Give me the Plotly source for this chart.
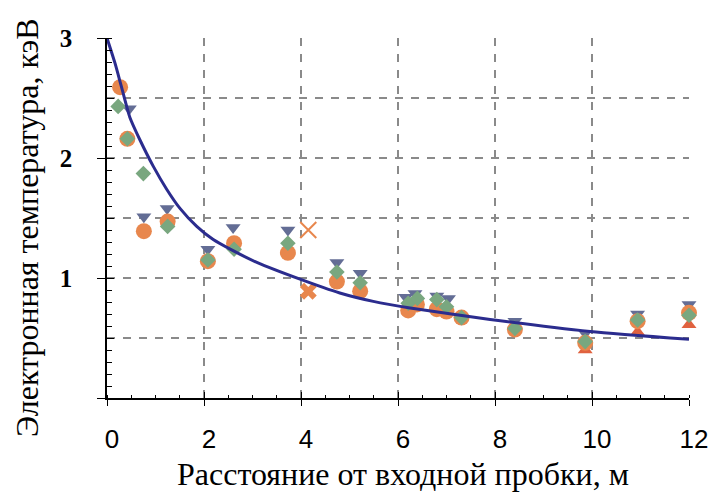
import plotly.graph_objects as go

# ---- data ----
circ_x = [0.27, 0.42, 0.76, 1.25, 2.08, 2.62, 3.73, 4.74, 5.22, 6.21, 6.39, 6.80, 7.00, 7.31, 8.41, 9.86, 10.94, 12.0]
circ_y = [2.59, 2.16, 1.39, 1.47, 1.14, 1.29, 1.21, 0.97, 0.89, 0.73, 0.78, 0.74, 0.72, 0.67, 0.57, 0.46, 0.64, 0.71]

tdn_x = [0.46, 0.76, 1.24, 2.08, 2.60, 3.73, 4.74, 5.22, 6.16, 6.35, 6.80, 7.04, 8.41, 9.86, 10.94, 12.0]
tdn_y = [2.41, 1.51, 1.58, 1.24, 1.42, 1.40, 1.13, 1.04, 0.84, 0.87, 0.85, 0.83, 0.64, 0.54, 0.70, 0.78]

dia_x = [0.23, 0.42, 0.75, 1.25, 2.08, 2.62, 3.73, 4.74, 5.22, 6.21, 6.40, 6.80, 7.00, 7.31, 8.41, 9.86, 10.94, 12.0]
dia_y = [2.43, 2.16, 1.87, 1.43, 1.15, 1.24, 1.29, 1.05, 0.96, 0.79, 0.83, 0.82, 0.76, 0.67, 0.58, 0.47, 0.65, 0.69]

tup_x = [9.86, 10.94, 12.0]
tup_y = [0.40, 0.55, 0.61]

xthin_x = [4.15]
xthin_y = [1.40]
xbold_x = [4.15]
xbold_y = [0.89]

curve_x = [0.0, 0.165, 0.30, 0.47, 0.68, 0.955, 1.23, 1.505, 1.85, 2.19, 2.54, 3.09, 3.98, 4.80, 5.49, 6.25, 7.9, 9.96, 12.0]
curve_y = [3.00, 2.79, 2.59, 2.34, 2.15, 1.93, 1.74, 1.58, 1.43, 1.32, 1.24, 1.13, 0.99, 0.875, 0.805, 0.75, 0.655, 0.555, 0.49]

x_ticks = [0, 2, 4, 6, 8, 10, 12]
y_ticks = [0, 1, 2, 3]
y_ticktext = ["", "1", "2", "3"]

ORANGE = "#E8874D"
BLUE = "#636D95"
GREEN = "#79A77F"
RED = "#E0623F"
LINE = "#2B2C8E"
GRID = "#8A8A8A"

fig = go.Figure()
fig.add_trace(go.Scatter(x=tup_x, y=tup_y, mode="markers", cliponaxis=False,
                         marker=dict(symbol="triangle-up", size=13, color=RED, line=dict(width=0))))
fig.add_trace(go.Scatter(x=tdn_x, y=tdn_y, mode="markers", cliponaxis=False,
                         marker=dict(symbol="triangle-down", size=13, color=BLUE, line=dict(width=0))))
fig.add_trace(go.Scatter(x=circ_x, y=circ_y, mode="markers", cliponaxis=False,
                         marker=dict(symbol="circle", size=16, color=ORANGE, line=dict(width=0))))
fig.add_trace(go.Scatter(x=dia_x, y=dia_y, mode="markers", cliponaxis=False,
                         marker=dict(symbol="diamond", size=12, color=GREEN, line=dict(width=0))))
fig.add_trace(go.Scatter(x=xthin_x, y=xthin_y, mode="markers", cliponaxis=False,
                         marker=dict(symbol="x-thin-open", size=16, color=ORANGE,
                                     line=dict(width=2, color=ORANGE))))
fig.add_trace(go.Scatter(x=xbold_x, y=xbold_y, mode="markers", cliponaxis=False,
                         marker=dict(symbol="x", size=15, color=ORANGE, line=dict(width=0))))
fig.add_trace(go.Scatter(x=curve_x, y=curve_y, mode="lines", cliponaxis=False,
                         line=dict(color=LINE, width=3, shape="spline", smoothing=0.6)))

# invisible trace to attach the overlay axes
fig.add_trace(go.Scatter(x=[None], y=[None], xaxis="x2", yaxis="y2", showlegend=False, hoverinfo="skip"))

fig.update_layout(
    width=710, height=497, autosize=False,
    margin=dict(l=107, r=21, t=38, b=99, autoexpand=False),
    paper_bgcolor="white", plot_bgcolor="white",
    showlegend=False,
    xaxis=dict(
        range=[0, 12], tickvals=x_ticks, ticks="outside", ticklen=6, tickwidth=1.3, tickcolor="black",
        showline=True, linecolor="black", linewidth=1.5, automargin=False,
        showgrid=True, gridcolor=GRID, gridwidth=1.5, griddash="8px,8px",
        zeroline=False,
        tickfont=dict(family="Liberation Sans Narrow, Arial Narrow, Liberation Sans, Arial", size=26, color="black"),
        ticklabelshift=5, ticklabelstandoff=11,
        minor=dict(dtick=0.5, tick0=0, ticks="inside", ticklen=3, tickwidth=1, tickcolor="black", showgrid=False),
    ),
    yaxis=dict(
        range=[0, 3], tickvals=y_ticks, ticktext=y_ticktext, ticks="outside", ticklen=8, tickwidth=1.3,
        tickcolor="black", automargin=False,
        showline=True, linecolor="black", linewidth=1.5,
        showgrid=False, zeroline=False,
        tickfont=dict(family="Liberation Serif, Times New Roman, serif", size=25, color="black", weight="bold"),
        ticklabelstandoff=20,
        minor=dict(dtick=0.1, tick0=0, ticks="inside", ticklen=5, tickwidth=1, tickcolor="black", showgrid=False),
    ),
    xaxis2=dict(
        range=[0, 12], overlaying="x", anchor="y", side="bottom", tickvals=x_ticks, ticks="inside", ticklen=6,
        tickwidth=1.3, tickcolor="black", showticklabels=False, showgrid=False, zeroline=False, showline=False,
        automargin=False,
    ),
    yaxis2=dict(
        range=[0, 3], overlaying="y", anchor="x", side="left", dtick=0.5, tick0=0, ticks="inside", ticklen=7,
        tickwidth=1.2, tickcolor="black", showticklabels=False, automargin=False,
        showgrid=True, gridcolor=GRID, gridwidth=1.5, griddash="8px,8px",
        zeroline=False, showline=False, layer="below traces",
    ),
    annotations=[
        dict(text="Расстояние от входной пробки, м", xref="paper", yref="paper",
             x=0.5086, y=-0.21, xanchor="center", yanchor="middle", showarrow=False,
             font=dict(family="Liberation Serif, Times New Roman, serif", size=32, color="black")),
        dict(text="Электронная температура, кэВ", xref="paper", yref="paper",
             x=-0.1375, y=0.475, xanchor="center", yanchor="middle", textangle=-90, showarrow=False,
             font=dict(family="Liberation Serif, Times New Roman, serif", size=32, color="black")),
    ],
)

fig.write_html(
    "out.html",
    config={"displayModeBar": False, "responsive": False},
    post_script="document.body.style.margin='0';document.body.style.padding='0';document.body.style.overflow='hidden';",
)
